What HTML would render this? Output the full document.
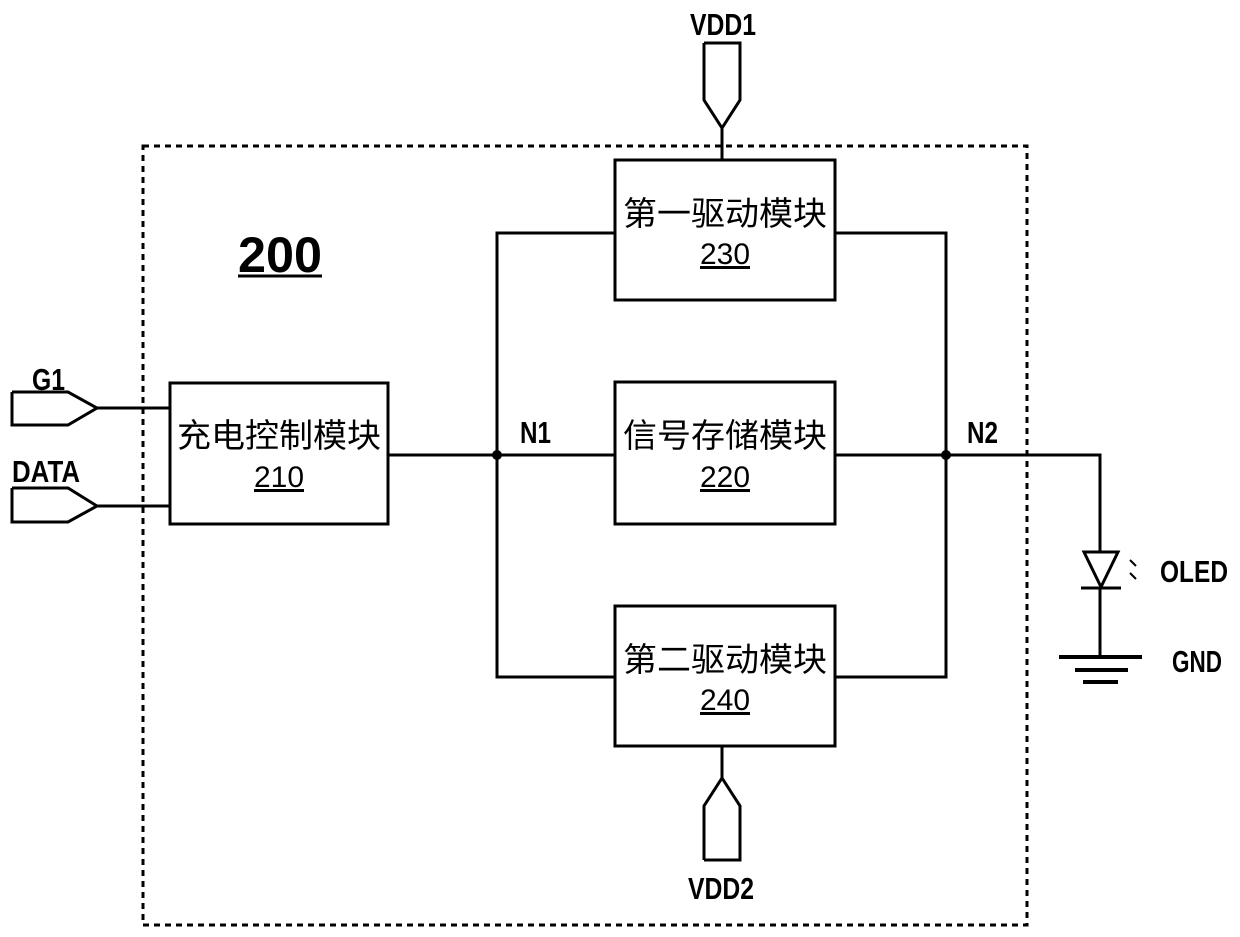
<!DOCTYPE html>
<html><head><style>body{margin:0;background:#fff}svg{display:block}</style></head><body>
<svg width="1240" height="937" xmlns="http://www.w3.org/2000/svg" font-family="'Liberation Sans','Noto Sans CJK SC',sans-serif">
<g fill="none" stroke="#000" stroke-width="3">
<rect x="143" y="146" width="884" height="779" stroke-dasharray="6,5"/>
<rect x="615" y="160" width="220" height="140" fill="#fff"/>
<rect x="615" y="382" width="220" height="142" fill="#fff"/>
<rect x="615" y="606" width="220" height="140" fill="#fff"/>
<rect x="170" y="383" width="218" height="141" fill="#fff"/>
<polyline points="615,233 497,233 497,677 615,677"/>
<polyline points="835,233 946,233 946,677 835,677"/>
<line x1="388" y1="455" x2="615" y2="455"/>
<polyline points="835,455 1100,455 1100,552"/>
<polygon points="1084,552 1118,552 1101,587"/>
<line x1="1081" y1="588" x2="1121" y2="588"/>
<line x1="1100" y1="588" x2="1100" y2="657"/>
<line x1="1059" y1="657" x2="1142" y2="657" stroke-width="4"/>
<line x1="1075" y1="670" x2="1128" y2="670" stroke-width="4"/>
<line x1="1083" y1="682" x2="1118" y2="682" stroke-width="4"/>
<polyline points="704,43 740,43 740,100 722,128 704,100 704,43"/>
<line x1="722" y1="128" x2="722" y2="160"/>
<polyline points="704,860 740,860 740,806 722,778 704,806 704,860"/>
<line x1="722" y1="746" x2="722" y2="778"/>
<polyline points="12,392 68,392 97,408 68,425 12,425 12,392"/>
<line x1="97" y1="408" x2="170" y2="408"/>
<polyline points="12,488 68,488 97,506 68,522 12,522 12,488"/>
<line x1="97" y1="506" x2="170" y2="506"/>
<line x1="238" y1="276" x2="322" y2="276"/>
<line x1="1130" y1="560" x2="1136" y2="566" stroke-width="2"/>
<line x1="1130" y1="573" x2="1136" y2="579" stroke-width="2"/>
</g>
<circle cx="497" cy="455" r="5"/><circle cx="946" cy="455" r="5"/>
<g font-size="33">
<text x="623" y="225" textLength="204" lengthAdjust="spacingAndGlyphs">第一驱动模块</text>
<text x="623" y="447" textLength="204" lengthAdjust="spacingAndGlyphs">信号存储模块</text>
<text x="623" y="671" textLength="204" lengthAdjust="spacingAndGlyphs">第二驱动模块</text>
<text x="177" y="447" textLength="204" lengthAdjust="spacingAndGlyphs">充电控制模块</text>
</g>
<g font-size="30" text-decoration="underline">
<text x="700" y="264" textLength="50" lengthAdjust="spacingAndGlyphs">230</text>
<text x="700" y="487" textLength="50" lengthAdjust="spacingAndGlyphs">220</text>
<text x="700" y="710" textLength="50" lengthAdjust="spacingAndGlyphs">240</text>
<text x="254" y="487" textLength="50" lengthAdjust="spacingAndGlyphs">210</text>
</g>
<g font-weight="bold" font-size="31" lengthAdjust="spacingAndGlyphs">
<text x="238" y="272" font-size="50" textLength="84" lengthAdjust="spacingAndGlyphs">200</text>
<text x="690" y="35" textLength="66" lengthAdjust="spacingAndGlyphs">VDD1</text>
<text x="688" y="899" textLength="66" lengthAdjust="spacingAndGlyphs">VDD2</text>
<text x="32" y="390" textLength="33" lengthAdjust="spacingAndGlyphs">G1</text>
<text x="12" y="482" textLength="68" lengthAdjust="spacingAndGlyphs">DATA</text>
<text x="520" y="443" textLength="31" lengthAdjust="spacingAndGlyphs">N1</text>
<text x="967" y="443" textLength="31" lengthAdjust="spacingAndGlyphs">N2</text>
<text x="1160" y="582" textLength="68" lengthAdjust="spacingAndGlyphs">OLED</text>
<text x="1172" y="672" textLength="50" lengthAdjust="spacingAndGlyphs">GND</text>
</g>
</svg>
</body></html>
